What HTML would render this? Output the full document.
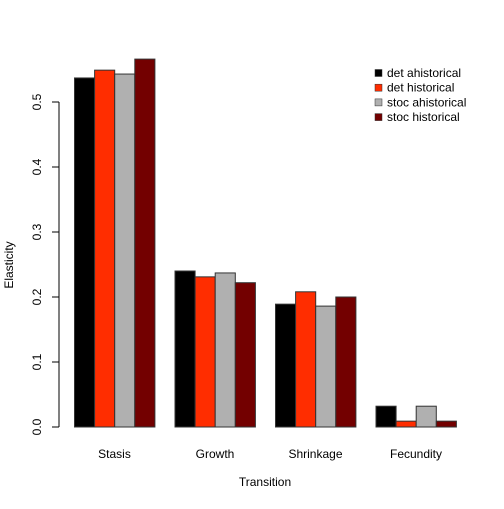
<!DOCTYPE html>
<html><head><style>body{margin:0;background:#fff}svg{font-family:"Liberation Sans",sans-serif}</style></head>
<body>
<svg id="c" width="504" height="504"></svg>
<script>
const categories=["Stasis","Growth","Shrinkage","Fecundity"];
const seriesNames=["det ahistorical","det historical","stoc ahistorical","stoc historical"];
const detAhist=[0.537,0.240,0.189,0.032];
const detHist=[0.549,0.231,0.208,0.009];
const stocAhist=[0.543,0.237,0.186,0.032];
const stocHist=[0.566,0.222,0.200,0.009];
const yTicks=[0,0.1,0.2,0.3,0.4,0.5];
const yTickLabels=["0.0","0.1","0.2","0.3","0.4","0.5"];
const colors=["#000000","#ff2d00","#b0b0b0","#730000"];
const series=[detAhist,detHist,stocAhist,stocHist];
const svg=document.getElementById('c');const NS='http://www.w3.org/2000/svg';
function y(v){return 427-v*650;}
function mk(t,a,txt){const e=document.createElementNS(NS,t);for(const k in a)e.setAttribute(k,a[k]);if(txt!==undefined)e.textContent=txt;svg.appendChild(e);return e;}
categories.forEach((c,i)=>{
  const gx=74.5+i*100.5;
  series.forEach((s,j)=>{
    const r=mk('rect',{x:gx+j*20.1,y:y(s[i]),width:20.1,height:427-y(s[i]),fill:colors[j],stroke:'#333','stroke-width':1});
    
    
  });
  const t=mk('text',{x:gx+40,y:458,'text-anchor':'middle','font-size':12},c);
  
  
});
const ax=mk('line',{x1:59,x2:59,y1:y(0),y2:y(0.5),stroke:'#000'});


yTicks.forEach((v,i)=>{
  mk('line',{x1:52,x2:59,y1:y(v),y2:y(v),stroke:'#000'});
  const t=mk('text',{transform:`translate(41,${y(v)}) rotate(-90)`,'text-anchor':'middle','font-size':12},yTickLabels[i]);
  
  
});
const yt=mk('text',{transform:'translate(13,265) rotate(-90)','text-anchor':'middle','font-size':12},'Elasticity');


const xt=mk('text',{x:265,y:486,'text-anchor':'middle','font-size':12},'Transition');


seriesNames.forEach((n,j)=>{
  const yy=73+j*14.7;
  mk('rect',{x:375,y:yy-3.5,width:7,height:7,fill:colors[j],stroke:'#333','stroke-width':0.5});
  const t=mk('text',{x:387,y:yy+4,'font-size':12},n);
  
  
});
</script>
</body></html>
